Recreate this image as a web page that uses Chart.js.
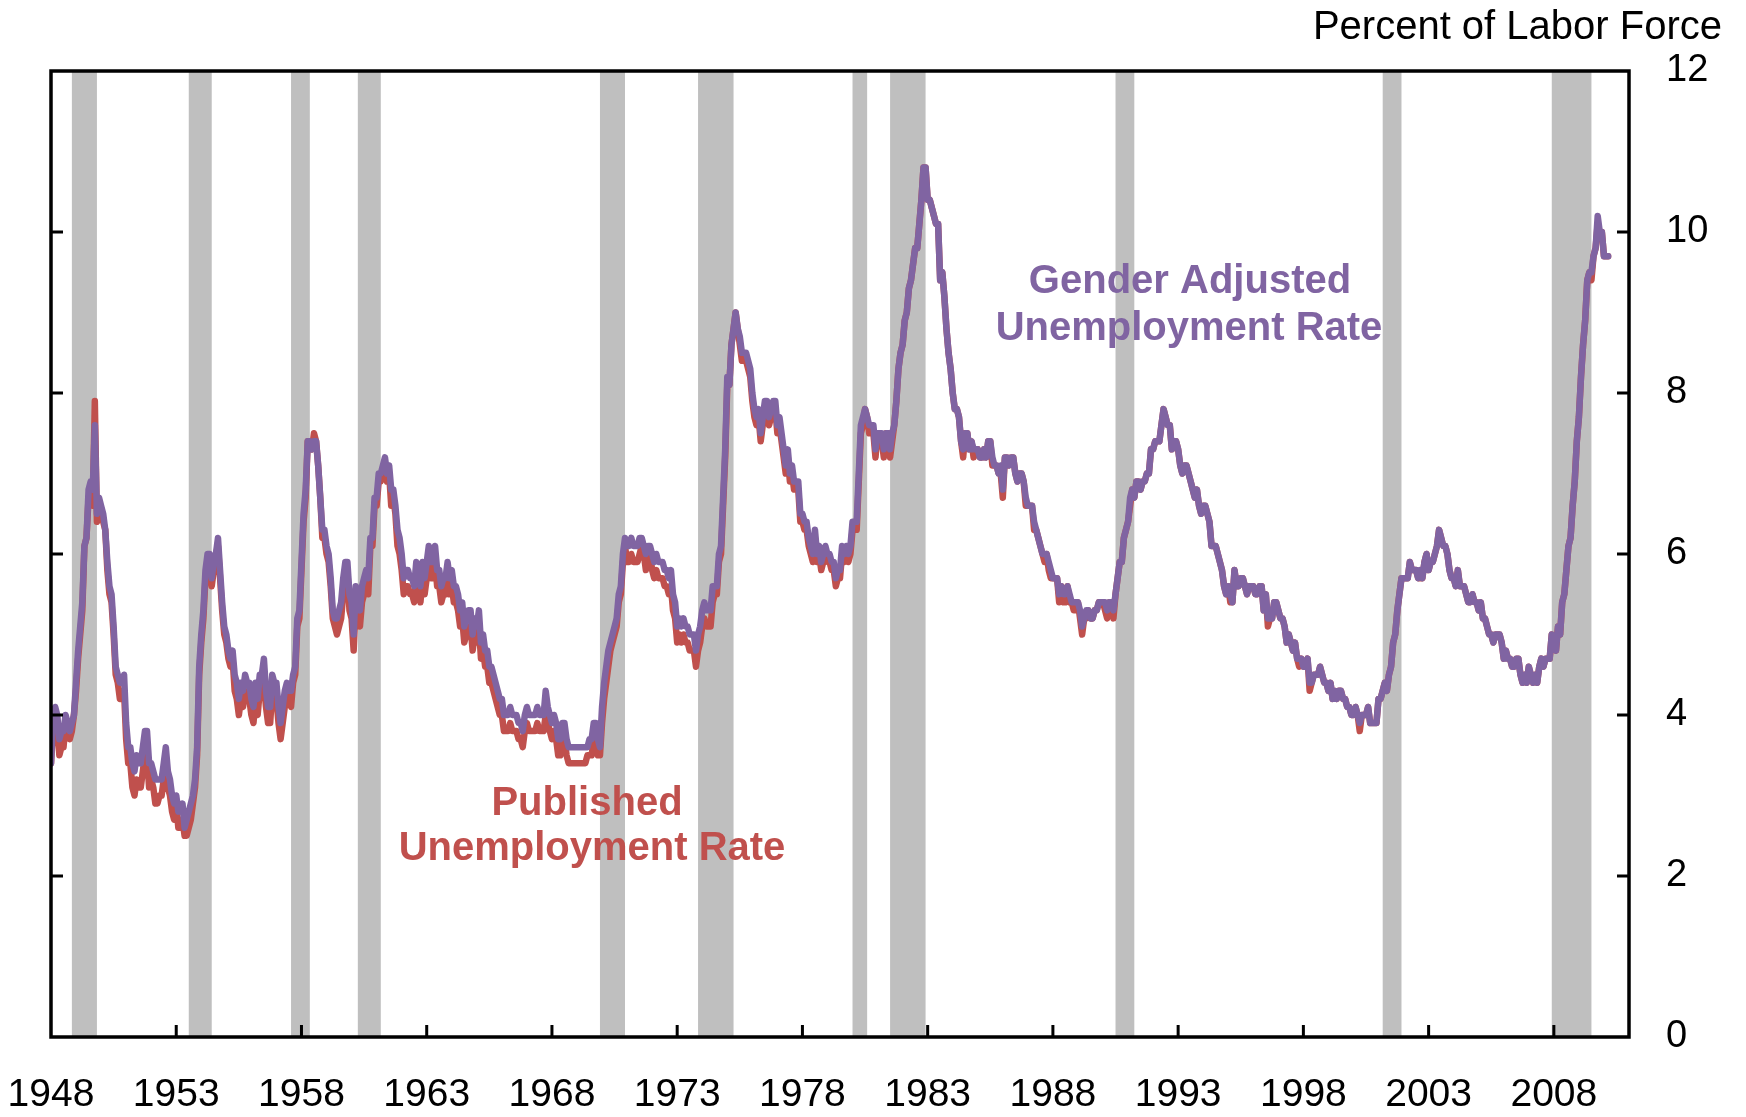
<!DOCTYPE html>
<html>
<head>
<meta charset="utf-8">
<script src="https://cdn.jsdelivr.net/npm/chart.js@4.4.1/dist/chart.umd.min.js"></script>
<style>
  html, body { margin: 0; padding: 0; background: #ffffff; }
  #wrap { width: 1746px; height: 1117px; }
</style>
</head>
<body>
<div id="wrap"><canvas id="unrateChart" width="1746" height="1117"></canvas></div>
<script>
// monthly values, Jan 1948 onwards (one row per year)
var firstYear = 1948;

var published = [
    3.4, 3.8, 4.0, 3.9, 3.5, 3.6, 3.6, 3.9, 3.8, 3.7, 3.8, 4.0,
    4.3, 4.7, 5.0, 5.3, 6.1, 6.2, 6.7, 6.8, 6.6, 7.9, 6.4, 6.6,
    6.5, 6.4, 6.3, 5.8, 5.5, 5.4, 5.0, 4.5, 4.4, 4.2, 4.2, 4.3,
    3.7, 3.4, 3.4, 3.1, 3.0, 3.2, 3.1, 3.1, 3.3, 3.5, 3.5, 3.1,
    3.2, 3.1, 2.9, 2.9, 3.0, 3.0, 3.2, 3.4, 3.1, 3.0, 2.8, 2.7,
    2.9, 2.6, 2.6, 2.7, 2.5, 2.5, 2.6, 2.7, 2.9, 3.1, 3.5, 4.5,
    4.9, 5.2, 5.7, 5.9, 5.9, 5.6, 5.8, 6.0, 6.1, 5.7, 5.3, 5.0,
    4.9, 4.7, 4.6, 4.7, 4.3, 4.2, 4.0, 4.2, 4.1, 4.3, 4.2, 4.2,
    4.0, 3.9, 4.2, 4.0, 4.3, 4.3, 4.4, 4.1, 3.9, 3.9, 4.3, 4.2,
    4.2, 3.9, 3.7, 3.9, 4.1, 4.3, 4.2, 4.1, 4.4, 4.5, 5.1, 5.2,
    5.8, 6.4, 6.7, 7.4, 7.4, 7.3, 7.5, 7.4, 7.1, 6.7, 6.2, 6.2,
    6.0, 5.9, 5.6, 5.2, 5.1, 5.0, 5.1, 5.2, 5.5, 5.7, 5.8, 5.3,
    5.2, 4.8, 5.4, 5.2, 5.1, 5.4, 5.5, 5.6, 5.5, 6.1, 6.1, 6.6,
    6.6, 6.9, 6.9, 7.0, 7.1, 6.9, 7.0, 6.6, 6.7, 6.5, 6.1, 6.0,
    5.8, 5.5, 5.6, 5.6, 5.5, 5.5, 5.4, 5.7, 5.6, 5.4, 5.7, 5.5,
    5.7, 5.9, 5.7, 5.7, 5.9, 5.6, 5.6, 5.4, 5.5, 5.5, 5.7, 5.5,
    5.6, 5.4, 5.4, 5.3, 5.1, 5.2, 4.9, 5.0, 5.1, 5.1, 4.8, 5.0,
    4.9, 5.1, 4.7, 4.8, 4.6, 4.6, 4.4, 4.4, 4.3, 4.2, 4.1, 4.0,
    4.0, 3.8, 3.8, 3.8, 3.9, 3.8, 3.8, 3.8, 3.7, 3.7, 3.6, 3.8,
    3.9, 3.8, 3.8, 3.8, 3.8, 3.9, 3.8, 3.8, 3.8, 4.0, 3.9, 3.8,
    3.7, 3.8, 3.7, 3.5, 3.5, 3.7, 3.7, 3.5, 3.4, 3.4, 3.4, 3.4,
    3.4, 3.4, 3.4, 3.4, 3.4, 3.5, 3.5, 3.5, 3.7, 3.7, 3.5, 3.5,
    3.9, 4.2, 4.4, 4.6, 4.8, 4.9, 5.0, 5.1, 5.4, 5.5, 5.9, 6.1,
    5.9, 5.9, 6.0, 5.9, 5.9, 5.9, 6.0, 6.1, 6.0, 5.8, 6.0, 6.0,
    5.8, 5.7, 5.8, 5.7, 5.7, 5.7, 5.6, 5.6, 5.5, 5.6, 5.3, 5.2,
    4.9, 5.0, 4.9, 5.0, 4.9, 4.9, 4.8, 4.8, 4.8, 4.6, 4.8, 4.9,
    5.1, 5.2, 5.1, 5.1, 5.1, 5.4, 5.5, 5.5, 5.9, 6.0, 6.6, 7.2,
    8.1, 8.1, 8.6, 8.8, 9.0, 8.8, 8.6, 8.4, 8.4, 8.4, 8.3, 8.2,
    7.9, 7.7, 7.6, 7.7, 7.4, 7.6, 7.8, 7.8, 7.6, 7.7, 7.8, 7.8,
    7.5, 7.6, 7.4, 7.2, 7.0, 7.2, 6.9, 7.0, 6.8, 6.8, 6.8, 6.4,
    6.4, 6.3, 6.3, 6.1, 6.0, 5.9, 6.2, 5.9, 6.0, 5.8, 5.9, 6.0,
    5.9, 5.9, 5.8, 5.8, 5.6, 5.7, 5.7, 6.0, 5.9, 6.0, 5.9, 6.0,
    6.3, 6.3, 6.3, 6.9, 7.5, 7.6, 7.8, 7.7, 7.5, 7.5, 7.5, 7.2,
    7.5, 7.4, 7.4, 7.2, 7.5, 7.5, 7.2, 7.4, 7.6, 7.9, 8.3, 8.5,
    8.6, 8.9, 9.0, 9.3, 9.4, 9.6, 9.8, 9.8, 10.1, 10.4, 10.8, 10.8,
    10.4, 10.4, 10.3, 10.2, 10.1, 10.1, 9.4, 9.5, 9.2, 8.8, 8.5, 8.3,
    8.0, 7.8, 7.8, 7.7, 7.4, 7.2, 7.5, 7.5, 7.3, 7.4, 7.2, 7.3,
    7.3, 7.2, 7.2, 7.3, 7.2, 7.4, 7.4, 7.1, 7.1, 7.1, 7.0, 7.0,
    6.7, 7.2, 7.2, 7.1, 7.2, 7.2, 7.0, 6.9, 7.0, 7.0, 6.9, 6.6,
    6.6, 6.6, 6.6, 6.3, 6.3, 6.2, 6.1, 6.0, 5.9, 6.0, 5.8, 5.7,
    5.7, 5.7, 5.7, 5.4, 5.6, 5.4, 5.4, 5.6, 5.4, 5.4, 5.3, 5.3,
    5.4, 5.2, 5.0, 5.2, 5.2, 5.3, 5.2, 5.2, 5.3, 5.3, 5.4, 5.4,
    5.4, 5.3, 5.2, 5.4, 5.4, 5.2, 5.5, 5.7, 5.9, 5.9, 6.2, 6.3,
    6.4, 6.6, 6.8, 6.7, 6.9, 6.9, 6.8, 6.9, 6.9, 7.0, 7.0, 7.3,
    7.3, 7.4, 7.4, 7.4, 7.6, 7.8, 7.7, 7.6, 7.6, 7.3, 7.4, 7.4,
    7.3, 7.1, 7.0, 7.1, 7.1, 7.0, 6.9, 6.8, 6.7, 6.8, 6.6, 6.5,
    6.6, 6.6, 6.5, 6.4, 6.1, 6.1, 6.1, 6.0, 5.9, 5.8, 5.6, 5.5,
    5.6, 5.4, 5.4, 5.8, 5.6, 5.6, 5.7, 5.7, 5.6, 5.5, 5.6, 5.6,
    5.6, 5.5, 5.5, 5.6, 5.6, 5.3, 5.5, 5.1, 5.2, 5.2, 5.4, 5.4,
    5.3, 5.2, 5.2, 5.1, 4.9, 5.0, 4.9, 4.8, 4.9, 4.7, 4.6, 4.7,
    4.6, 4.6, 4.7, 4.3, 4.4, 4.5, 4.5, 4.5, 4.6, 4.5, 4.4, 4.4,
    4.3, 4.4, 4.2, 4.3, 4.2, 4.3, 4.3, 4.2, 4.2, 4.1, 4.1, 4.0,
    4.0, 4.1, 4.0, 3.8, 4.0, 4.0, 4.0, 4.1, 3.9, 3.9, 3.9, 3.9,
    4.2, 4.2, 4.3, 4.4, 4.3, 4.5, 4.6, 4.9, 5.0, 5.3, 5.5, 5.7,
    5.7, 5.7, 5.7, 5.9, 5.8, 5.8, 5.8, 5.7, 5.7, 5.7, 5.9, 6.0,
    5.8, 5.9, 5.9, 6.0, 6.1, 6.3, 6.2, 6.1, 6.1, 6.0, 5.8, 5.7,
    5.7, 5.6, 5.8, 5.6, 5.6, 5.6, 5.5, 5.4, 5.4, 5.5, 5.4, 5.4,
    5.3, 5.4, 5.2, 5.2, 5.1, 5.0, 5.0, 4.9, 5.0, 5.0, 5.0, 4.9,
    4.7, 4.8, 4.7, 4.7, 4.6, 4.6, 4.7, 4.7, 4.5, 4.4, 4.5, 4.4,
    4.6, 4.5, 4.4, 4.5, 4.4, 4.6, 4.7, 4.6, 4.7, 4.7, 4.7, 5.0,
    4.9, 4.8, 5.1, 5.0, 5.4, 5.5, 5.8, 6.1, 6.2, 6.6, 6.9, 7.4,
    7.7, 8.2, 8.6, 8.9, 9.4, 9.5, 9.4, 9.7, 9.8, 10.1, 10.0, 10.0,
    9.7, 9.7, 9.7
];

var genderAdjusted = [
    3.4, 4.0, 4.1, 4.0, 3.7, 3.8, 3.8, 4.0, 3.9, 3.8, 3.9, 4.0,
    4.4, 4.8, 5.1, 5.4, 6.1, 6.2, 6.8, 6.9, 6.8, 7.6, 6.5, 6.7,
    6.6, 6.5, 6.3, 5.9, 5.6, 5.5, 5.1, 4.6, 4.5, 4.4, 4.4, 4.5,
    3.9, 3.6, 3.6, 3.4, 3.3, 3.5, 3.4, 3.4, 3.6, 3.8, 3.8, 3.4,
    3.4, 3.3, 3.2, 3.2, 3.2, 3.2, 3.4, 3.6, 3.3, 3.2, 3.0, 2.9,
    3.0, 2.8, 2.8, 2.9, 2.6, 2.7, 2.8, 2.9, 3.0, 3.2, 3.6, 4.6,
    5.0, 5.3, 5.8, 6.0, 6.0, 5.7, 5.9, 6.0, 6.2, 5.8, 5.4, 5.1,
    5.0, 4.8, 4.7, 4.8, 4.5, 4.4, 4.2, 4.4, 4.3, 4.5, 4.4, 4.4,
    4.2, 4.1, 4.4, 4.2, 4.5, 4.5, 4.7, 4.3, 4.1, 4.1, 4.5, 4.4,
    4.4, 4.1, 3.9, 4.1, 4.3, 4.4, 4.3, 4.3, 4.5, 4.6, 5.2, 5.3,
    5.9, 6.5, 6.8, 7.4, 7.4, 7.3, 7.4, 7.4, 7.1, 6.7, 6.3, 6.3,
    6.1, 6.0, 5.7, 5.3, 5.2, 5.2, 5.3, 5.4, 5.7, 5.9, 5.9, 5.5,
    5.4, 5.0, 5.6, 5.4, 5.3, 5.6, 5.7, 5.8, 5.7, 6.2, 6.2, 6.7,
    6.7, 7.0, 7.0, 7.1, 7.2, 7.0, 7.1, 6.8, 6.8, 6.6, 6.3, 6.2,
    6.0, 5.7, 5.8, 5.8, 5.7, 5.7, 5.6, 5.9, 5.8, 5.6, 5.9, 5.7,
    5.9, 6.1, 5.9, 5.9, 6.1, 5.8, 5.8, 5.6, 5.7, 5.7, 5.9, 5.7,
    5.8, 5.6, 5.6, 5.5, 5.3, 5.4, 5.1, 5.2, 5.3, 5.3, 5.0, 5.2,
    5.1, 5.3, 4.9, 5.0, 4.8, 4.8, 4.6, 4.6, 4.5, 4.4, 4.3, 4.2,
    4.2, 4.0, 4.0, 4.0, 4.1, 4.0, 4.0, 4.0, 3.9, 3.9, 3.8, 4.0,
    4.1, 4.0, 4.0, 4.0, 4.0, 4.1, 4.0, 4.0, 4.0, 4.3, 4.1, 4.0,
    3.9, 4.0, 3.9, 3.7, 3.7, 3.9, 3.9, 3.7, 3.6, 3.6, 3.6, 3.6,
    3.6, 3.6, 3.6, 3.6, 3.6, 3.6, 3.7, 3.7, 3.9, 3.9, 3.7, 3.6,
    4.1, 4.4, 4.6, 4.8, 4.9, 5.0, 5.1, 5.2, 5.5, 5.6, 6.0, 6.2,
    6.1, 6.1, 6.2, 6.1, 6.1, 6.1, 6.2, 6.2, 6.1, 6.0, 6.1, 6.1,
    6.0, 5.9, 6.0, 5.9, 5.9, 5.9, 5.8, 5.8, 5.7, 5.8, 5.5, 5.4,
    5.1, 5.2, 5.1, 5.2, 5.1, 5.1, 5.0, 5.0, 5.0, 4.8, 5.0, 5.1,
    5.3, 5.4, 5.3, 5.3, 5.3, 5.6, 5.6, 5.6, 6.0, 6.1, 6.7, 7.3,
    8.2, 8.1, 8.6, 8.8, 9.0, 8.8, 8.7, 8.5, 8.5, 8.5, 8.4, 8.3,
    8.0, 7.8, 7.7, 7.8, 7.5, 7.7, 7.9, 7.9, 7.7, 7.8, 7.9, 7.9,
    7.6, 7.7, 7.5, 7.3, 7.1, 7.3, 7.0, 7.1, 6.9, 6.9, 6.9, 6.5,
    6.5, 6.4, 6.4, 6.2, 6.1, 6.0, 6.3, 6.0, 6.1, 5.9, 6.0, 6.1,
    6.0, 6.0, 5.9, 5.9, 5.7, 5.8, 5.8, 6.1, 6.0, 6.1, 6.0, 6.1,
    6.4, 6.4, 6.4, 7.0, 7.6, 7.7, 7.8, 7.7, 7.6, 7.6, 7.6, 7.3,
    7.5, 7.5, 7.5, 7.3, 7.5, 7.5, 7.3, 7.5, 7.6, 7.9, 8.3, 8.5,
    8.6, 8.9, 9.0, 9.3, 9.4, 9.6, 9.8, 9.8, 10.1, 10.4, 10.8, 10.8,
    10.4, 10.4, 10.3, 10.2, 10.1, 10.1, 9.4, 9.5, 9.2, 8.8, 8.5, 8.3,
    8.0, 7.8, 7.8, 7.7, 7.4, 7.3, 7.5, 7.5, 7.3, 7.4, 7.3, 7.3,
    7.3, 7.2, 7.2, 7.3, 7.2, 7.4, 7.4, 7.2, 7.1, 7.1, 7.0, 7.1,
    6.8, 7.2, 7.2, 7.1, 7.2, 7.2, 7.0, 6.9, 7.0, 7.0, 6.9, 6.7,
    6.6, 6.6, 6.6, 6.4, 6.3, 6.2, 6.1, 6.0, 6.0, 6.0, 5.9, 5.8,
    5.7, 5.7, 5.7, 5.5, 5.6, 5.5, 5.5, 5.6, 5.5, 5.4, 5.4, 5.4,
    5.4, 5.3, 5.1, 5.2, 5.3, 5.3, 5.2, 5.2, 5.3, 5.3, 5.4, 5.4,
    5.4, 5.4, 5.3, 5.4, 5.4, 5.3, 5.5, 5.7, 5.9, 5.9, 6.2, 6.3,
    6.4, 6.7, 6.8, 6.7, 6.9, 6.9, 6.8, 6.9, 6.9, 7.0, 7.0, 7.3,
    7.3, 7.4, 7.4, 7.4, 7.6, 7.8, 7.7, 7.6, 7.6, 7.3, 7.4, 7.4,
    7.3, 7.1, 7.0, 7.1, 7.1, 7.0, 6.9, 6.8, 6.7, 6.8, 6.6, 6.5,
    6.6, 6.6, 6.5, 6.4, 6.1, 6.1, 6.1, 6.0, 5.9, 5.8, 5.6, 5.5,
    5.6, 5.5, 5.4, 5.8, 5.6, 5.6, 5.7, 5.7, 5.6, 5.5, 5.6, 5.6,
    5.6, 5.5, 5.5, 5.6, 5.6, 5.3, 5.5, 5.2, 5.2, 5.2, 5.4, 5.4,
    5.3, 5.2, 5.2, 5.1, 4.9, 5.0, 4.9, 4.8, 4.9, 4.7, 4.7, 4.7,
    4.6, 4.6, 4.7, 4.4, 4.4, 4.5, 4.5, 4.5, 4.6, 4.5, 4.4, 4.4,
    4.3, 4.4, 4.2, 4.3, 4.2, 4.3, 4.3, 4.2, 4.2, 4.1, 4.1, 4.0,
    4.0, 4.1, 4.0, 3.9, 4.0, 4.0, 4.0, 4.1, 3.9, 3.9, 3.9, 3.9,
    4.2, 4.2, 4.3, 4.4, 4.3, 4.5, 4.6, 4.9, 5.0, 5.3, 5.5, 5.7,
    5.7, 5.7, 5.7, 5.9, 5.8, 5.8, 5.8, 5.7, 5.8, 5.7, 5.9, 6.0,
    5.8, 5.9, 5.9, 6.0, 6.1, 6.3, 6.2, 6.1, 6.1, 6.0, 5.8, 5.7,
    5.7, 5.6, 5.8, 5.6, 5.6, 5.6, 5.5, 5.4, 5.4, 5.5, 5.4, 5.4,
    5.3, 5.4, 5.2, 5.2, 5.1, 5.0, 5.0, 4.9, 5.0, 5.0, 5.0, 4.9,
    4.7, 4.8, 4.7, 4.7, 4.6, 4.6, 4.7, 4.7, 4.5, 4.4, 4.5, 4.4,
    4.6, 4.5, 4.4, 4.5, 4.4, 4.6, 4.7, 4.6, 4.7, 4.7, 4.7, 5.0,
    4.9, 4.8, 5.1, 5.0, 5.4, 5.5, 5.8, 6.1, 6.2, 6.6, 6.9, 7.4,
    7.7, 8.2, 8.6, 8.9, 9.4, 9.5, 9.5, 9.7, 9.8, 10.2, 10.0, 10.0,
    9.7, 9.7, 9.7
];

// NBER recessions, peak month to trough month
var recessionPeaks   = ['1948-11', '1953-07', '1957-08', '1960-04', '1969-12', '1973-11',
                        '1980-01', '1981-07', '1990-07', '2001-03', '2007-12'];
var recessionTroughs = ['1949-10', '1954-05', '1958-04', '1961-02', '1970-11', '1975-03',
                        '1980-07', '1982-11', '1991-03', '2001-11', '2009-06'];

var yearTicks = [1948, 1953, 1958, 1963, 1968, 1973, 1978, 1983, 1988, 1993, 1998, 2003, 2008];
var valueTicks = [0, 2, 4, 6, 8, 10, 12];

var purple = '#8064a2';
var red = '#c0504d';

Chart.defaults.font.family = '"Liberation Sans", Arial, sans-serif';
Chart.defaults.color = '#000000';

function toPoints(values) {
    var pts = [];
    for (var i = 0; i < values.length; i++) {
        pts.push({ x: firstYear + i / 12, y: values[i] });
    }
    return pts;
}

function monthToYear(s, endOfMonth) {
    var parts = s.split('-');
    return +parts[0] + (+parts[1] - 1 + endOfMonth) / 12;
}

var recessionShading = {
    id: 'recessionShading',
    beforeDatasetsDraw: function (chart) {
        var ctx = chart.ctx, area = chart.chartArea, xs = chart.scales.x;
        ctx.save();
        ctx.fillStyle = '#bfbfbf';
        for (var i = 0; i < recessionPeaks.length; i++) {
            var x0 = xs.getPixelForValue(monthToYear(recessionPeaks[i], 0));
            var x1 = xs.getPixelForValue(monthToYear(recessionTroughs[i], 1));
            ctx.fillRect(x0, area.top, x1 - x0, area.bottom - area.top);
        }
        ctx.restore();
    }
};

var frameAndNotes = {
    id: 'frameAndNotes',
    afterDraw: function (chart) {
        var ctx = chart.ctx, a = chart.chartArea;
        var xs = chart.scales.x, ys = chart.scales.y;
        ctx.save();

        // box round the plot
        ctx.strokeStyle = '#000000';
        ctx.lineWidth = 3.5;
        ctx.strokeRect(a.left, a.top, a.right - a.left, a.bottom - a.top);

        // inward tick marks
        ctx.lineWidth = 3;
        ctx.beginPath();
        yearTicks.forEach(function (yr, i) {
            if (i === 0) return;
            var px = xs.getPixelForValue(yr);
            ctx.moveTo(px, a.bottom);
            ctx.lineTo(px, a.bottom - 12);
        });
        valueTicks.forEach(function (v) {
            if (v === 0 || v === 12) return;
            var py = ys.getPixelForValue(v);
            ctx.moveTo(a.left, py);
            ctx.lineTo(a.left + 12, py);
            ctx.moveTo(a.right, py);
            ctx.lineTo(a.right - 12, py);
        });
        ctx.stroke();

        // unit note, top right
        ctx.fillStyle = '#000000';
        ctx.font = '40px "Liberation Sans", Arial, sans-serif';
        ctx.textAlign = 'right';
        ctx.textBaseline = 'alphabetic';
        ctx.fillText('Percent of Labor Force', 1722, 39);

        // series names
        ctx.textAlign = 'center';
        ctx.font = 'bold 40px "Liberation Sans", Arial, sans-serif';
        ctx.fillStyle = purple;
        ctx.fillText('Gender Adjusted', 1190, 293);
        ctx.fillText('Unemployment Rate', 1189, 340);
        ctx.fillStyle = red;
        ctx.fillText('Published', 587, 815);
        ctx.fillText('Unemployment Rate', 592, 860);

        ctx.restore();
    }
};

var ctx = document.getElementById('unrateChart').getContext('2d');

new Chart(ctx, {
    type: 'line',
    data: {
        datasets: [
            {
                label: 'Gender Adjusted Unemployment Rate',
                data: toPoints(genderAdjusted),
                borderColor: purple,
                borderWidth: 6.5,
                pointRadius: 0,
                tension: 0,
                borderJoinStyle: 'round',
                borderCapStyle: 'round',
                fill: false
            },
            {
                label: 'Published Unemployment Rate',
                data: toPoints(published),
                borderColor: red,
                borderWidth: 6.5,
                pointRadius: 0,
                tension: 0,
                borderJoinStyle: 'round',
                borderCapStyle: 'round',
                fill: false
            }
        ]
    },
    options: {
        responsive: false,
        devicePixelRatio: 1,
        animation: false,
        events: [],
        layout: {
            padding: { left: 51, top: 71, right: 0, bottom: 0 }
        },
        plugins: {
            legend: { display: false },
            tooltip: { enabled: false },
            title: { display: false }
        },
        scales: {
            x: {
                type: 'linear',
                position: 'bottom',
                min: 1948,
                max: 2011,
                grid: { display: false, drawTicks: false },
                border: { display: false },
                ticks: {
                    color: '#000000',
                    font: { size: 39 },
                    padding: 35,
                    maxRotation: 0,
                    autoSkip: false,
                    callback: function (value) { return String(value); }
                },
                afterBuildTicks: function (scale) {
                    scale.ticks = yearTicks.map(function (v) { return { value: v }; });
                },
                afterFit: function (scale) {
                    scale.height = 80;
                    scale.paddingLeft = 0;
                    scale.paddingRight = 0;
                }
            },
            y: {
                type: 'linear',
                position: 'right',
                min: 0,
                max: 12,
                grid: { display: false, drawTicks: false },
                border: { display: false },
                ticks: {
                    color: '#000000',
                    font: { size: 38 },
                    padding: 37,
                    callback: function (value) { return String(value); }
                },
                afterBuildTicks: function (scale) {
                    scale.ticks = valueTicks.map(function (v) { return { value: v }; });
                },
                afterFit: function (scale) {
                    scale.width = 117;
                    scale.paddingTop = 0;
                    scale.paddingBottom = 0;
                }
            }
        }
    },
    plugins: [recessionShading, frameAndNotes]
});
</script>
</body>
</html>
